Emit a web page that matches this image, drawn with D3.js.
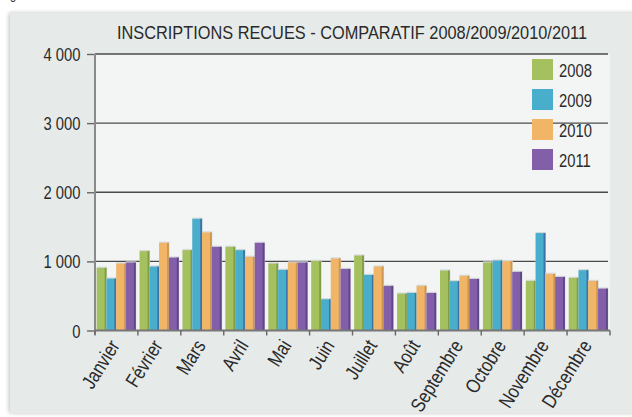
<!DOCTYPE html>
<html>
<head>
<meta charset="utf-8">
<script src="https://cdn.jsdelivr.net/npm/d3@7"></script>
<style>
  html, body { margin: 0; padding: 0; background: #ffffff; }
  svg { display: block; }
  text { font-family: "Liberation Sans", Arial, sans-serif; }
</style>
</head>
<body>
<svg id="chart" width="632" height="417"></svg>
<script>
// Monthly registrations received, one array per year
const months = ["Janvier", "Février", "Mars", "Avril", "Mai", "Juin", "Juillet", "Août", "Septembre", "Octobre", "Novembre", "Décembre"];
const years = ["2008", "2009", "2010", "2011"];
const values2008 = [906, 1148, 1162, 1210, 968, 1007, 1084, 533, 867, 983, 717, 761];
const values2009 = [751, 925, 1616, 1162, 877, 452, 804, 543, 713, 1012, 1409, 872];
const values2010 = [968, 1268, 1418, 1065, 983, 1041, 925, 645, 790, 1003, 819, 717];
const values2011 = [983, 1055, 1210, 1268, 983, 891, 645, 543, 746, 848, 775, 606];
const yTicks = [0, 1000, 2000, 3000, 4000];
const yTickLabels = ["0", "1 000", "2 000", "3 000", "4 000"];
const titleText = "INSCRIPTIONS RECUES - COMPARATIF 2008/2009/2010/2011";

const seriesValues = [values2008, values2009, values2010, values2011];
const fills = ["#a5c15f", "#49aecb", "#f0b566", "#835ea9"];
const edges = ["#7f9d45", "#3d72a8", "#cc9650", "#5f4688"];
const narrow = 0.8; // horizontal squeeze for a condensed look

const svg = d3.select("#chart");

// Outer panel with a soft left shadow
const defs = svg.append("defs");
const sh = defs.append("filter").attr("id", "panelShadow").attr("x", "-5%").attr("y", "-5%").attr("width", "110%").attr("height", "110%");
sh.append("feGaussianBlur").attr("in", "SourceAlpha").attr("stdDeviation", 2).attr("result", "b");
sh.append("feOffset").attr("in", "b").attr("dx", -1).attr("dy", 0).attr("result", "o");
sh.append("feComponentTransfer").attr("in", "o").attr("result", "s")
  .append("feFuncA").attr("type", "linear").attr("slope", 0.25);
const mg = sh.append("feMerge");
mg.append("feMergeNode").attr("in", "s");
mg.append("feMergeNode").attr("in", "SourceGraphic");

svg.append("text").attr("transform", `translate(10,-1) scale(${narrow},1)`)
  .attr("font-size", 14).attr("fill", "#333").text("g");

svg.append("rect").attr("x", 10).attr("y", 13).attr("width", 640).attr("height", 400)
  .attr("fill", "#e6ebea").attr("filter", "url(#panelShadow)");

const plot = { left: 95, right: 610, top: 54, bottom: 330.5 };

const x = d3.scaleBand().domain(months).range([plot.left, plot.right]).paddingInner(0).paddingOuter(0);
const xInner = d3.scaleBand().domain(years).range([1.7, x.bandwidth() - 2.2]).padding(0);
const y = d3.scaleLinear().domain([0, 4000]).range([plot.bottom, plot.top]);

// Plot area background
svg.append("rect").attr("x", plot.left).attr("y", plot.top)
  .attr("width", plot.right - plot.left).attr("height", plot.bottom - plot.top)
  .attr("fill", "#f3f5f4");

// Title
svg.append("text").attr("x", 117).attr("y", 38.5)
  .attr("font-size", 18.5).attr("fill", "#2a2a2a")
  .attr("textLength", 470).attr("lengthAdjust", "spacingAndGlyphs")
  .text(titleText);

// Horizontal gridlines
svg.append("g").selectAll("line").data(yTicks.filter(d => d > 0)).join("line")
  .attr("x1", plot.left).attr("x2", plot.right - 2)
  .attr("y1", d => y(d)).attr("y2", d => y(d))
  .attr("stroke", "#4a4a4a").attr("stroke-width", 1.4);

// Y axis
const yAxis = d3.axisLeft(y).tickValues(yTicks)
  .tickFormat((d, i) => yTickLabels[i]).tickSize(8).tickPadding(6);
const gy = svg.append("g").attr("transform", `translate(${plot.left},0)`).call(yAxis);
gy.select(".domain").remove();
gy.selectAll(".tick line").attr("stroke", "#666").attr("stroke-width", 1.4);
gy.selectAll(".tick text").attr("font-size", 18.5).attr("fill", "#2a2a2a")
  .attr("font-family", null).attr("x", 0).attr("dy", 0)
  .attr("transform", `translate(-14.5,6.5) scale(${narrow},1)`);
svg.append("line").attr("x1", plot.left).attr("x2", plot.left)
  .attr("y1", plot.top).attr("y2", plot.bottom + 4)
  .attr("stroke", "#8a8a8a").attr("stroke-width", 2);

// Bars
const barData = [];
months.forEach((m, i) => {
  years.forEach((yr, k) => {
    barData.push({ month: m, year: yr, k: k, value: seriesValues[k][i] });
  });
});
const bars = svg.append("g").selectAll("g").data(barData).join("g")
  .attr("transform", d => `translate(${x(d.month) + xInner(d.year)},0)`);
const bw = xInner.bandwidth();
// soft halo above each bar
bars.append("rect").attr("x", 0).attr("width", bw + 0.6)
  .attr("y", d => y(d.value) - 1.2).attr("height", d => plot.bottom - y(d.value) + 1.2)
  .attr("fill", "#d5d9da");
bars.append("rect").attr("x", 0).attr("width", bw)
  .attr("y", d => y(d.value)).attr("height", d => plot.bottom - y(d.value))
  .attr("fill", d => fills[d.k]);
bars.append("rect").attr("x", bw - 1.8).attr("width", 1.8)
  .attr("y", d => y(d.value)).attr("height", d => plot.bottom - y(d.value))
  .attr("fill", d => edges[d.k]);

// X axis line and boundary ticks
svg.append("line").attr("x1", plot.left).attr("x2", plot.right)
  .attr("y1", plot.bottom).attr("y2", plot.bottom)
  .attr("stroke", "#777").attr("stroke-width", 2);
const bounds = months.map(m => x(m)).concat([x(months[months.length - 1]) + x.bandwidth()]);
svg.append("g").selectAll("line").data(bounds).join("line")
  .attr("x1", d => d).attr("x2", d => d)
  .attr("y1", plot.bottom).attr("y2", plot.bottom + 5)
  .attr("stroke", "#666").attr("stroke-width", 1.4);

// Month labels
const xAxis = d3.axisBottom(x).tickSize(0).tickPadding(0);
const gx = svg.append("g").attr("transform", `translate(0,${plot.bottom})`).call(xAxis);
gx.select(".domain").remove();
gx.selectAll(".tick text")
  .attr("font-family", null).attr("font-size", 20).attr("fill", "#2a2a2a")
  .attr("text-anchor", "end").attr("y", 0).attr("dy", 0)
  .attr("transform", "translate(4,15) rotate(-58) scale(0.82,1)");

// Legend
const legend = svg.append("g").selectAll("g").data(years).join("g")
  .attr("transform", (d, i) => `translate(532,${59 + i * 30})`);
legend.append("rect").attr("width", 21).attr("height", 21)
  .attr("fill", (d, i) => fills[i]);
legend.append("text").attr("transform", `translate(27,17.5) scale(${narrow},1)`)
  .attr("font-size", 18.5).attr("fill", "#2a2a2a").text(d => d);
</script>
</body>
</html>
